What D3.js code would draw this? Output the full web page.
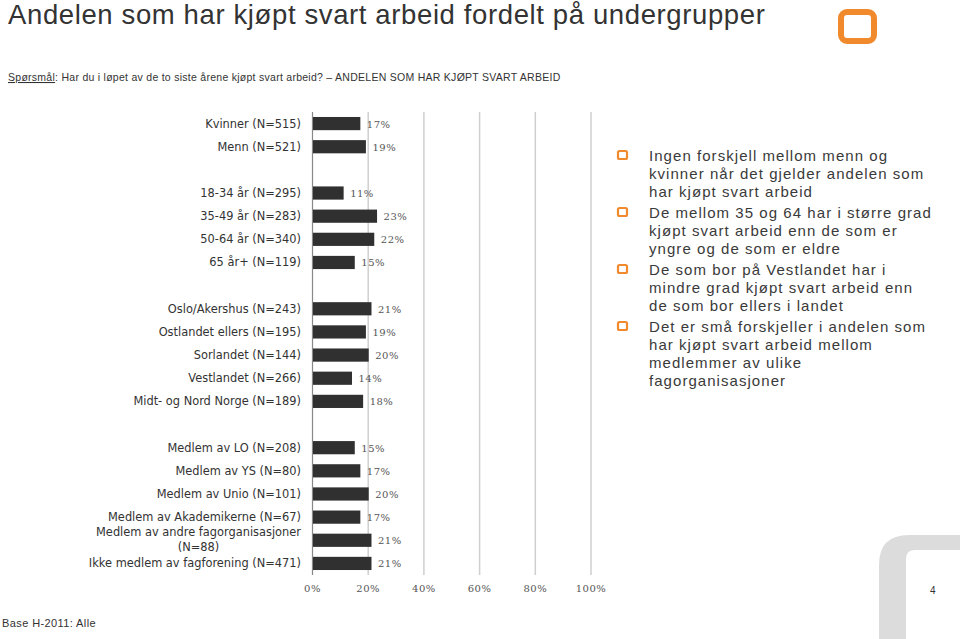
<!DOCTYPE html>
<html>
<head>
<meta charset="utf-8">
<script src="https://cdn.jsdelivr.net/npm/d3@7"></script>
<style>
  html, body { margin: 0; padding: 0; background: #fff; }
  svg { display: block; }
</style>
</head>
<body>
<svg id="chart" width="960" height="639"></svg>
<script>
// ---------- data ----------
const categories = [
  "Kvinner (N=515)", "Menn (N=521)", "",
  "18-34 år (N=295)", "35-49 år (N=283)", "50-64 år (N=340)", "65 år+ (N=119)", "",
  "Oslo/Akershus (N=243)", "Ostlandet ellers (N=195)", "Sorlandet (N=144)", "Vestlandet (N=266)", "Midt- og Nord Norge (N=189)", "",
  "Medlem av LO (N=208)", "Medlem av YS (N=80)", "Medlem av Unio (N=101)", "Medlem av Akademikerne (N=67)",
  "Medlem av andre fagorganisasjoner|(N=88)", "Ikke medlem av fagforening (N=471)"
];
const values = [17, 19, null, 11, 23, 22, 15, null, 21, 19, 20, 14, 18, null, 15, 17, 20, 17, 21, 21];
const tickValues = [0, 20, 40, 60, 80, 100];
const tickLabels = ["0%", "20%", "40%", "60%", "80%", "100%"];
const title = "Andelen som har kjøpt svart arbeid fordelt på undergrupper";
const questionLabel = "Spørsmål";
const questionText = ": Har du i løpet av de to siste årene kjøpt svart arbeid? – ANDELEN SOM HAR KJØPT SVART ARBEID";
const bullets = [
  ["Ingen forskjell mellom menn og", "kvinner når det gjelder andelen som", "har kjøpt svart arbeid"],
  ["De mellom 35 og 64 har i større grad", "kjøpt svart arbeid enn de som er", "yngre og de som er eldre"],
  ["De som bor på Vestlandet har i", "mindre grad kjøpt svart arbeid enn", "de som bor ellers i landet"],
  ["Det er små forskjeller i andelen som", "har kjøpt svart arbeid mellom", "medlemmer av ulike", "fagorganisasjoner"]
];
const baseText = "Base H-2011: Alle";
const pageNumber = "4";

// ---------- drawing ----------
const svg = d3.select("#chart");
const orange = "#F08A2C";

// title
svg.append("text").attr("x", 8).attr("y", 24)
  .attr("font-family", "Liberation Sans, Arial, sans-serif").attr("font-size", 27.5)
  .attr("letter-spacing", 0.62).attr("fill", "#333").text(title);

// logo
svg.append("rect").attr("x", 841).attr("y", 12).attr("width", 33).attr("height", 29)
  .attr("rx", 6).attr("fill", "none").attr("stroke", orange).attr("stroke-width", 6);

// question line
const q = svg.append("text").attr("x", 8).attr("y", 81)
  .attr("font-family", "Liberation Sans, Arial, sans-serif").attr("font-size", 10.5)
  .attr("letter-spacing", 0.27).attr("fill", "#333");
q.append("tspan").attr("text-decoration", "underline").text(questionLabel);
q.append("tspan").text(questionText);

// chart
const x0 = 312.5, x1 = 591;
const x = d3.scaleLinear().domain([0, 100]).range([x0, x1]);
const y = d3.scaleBand().domain(d3.range(categories.length)).range([112, 575]).paddingInner(0.43).paddingOuter(0.215);

const g = svg.append("g");
// gridlines
g.selectAll("line.grid").data(tickValues.filter(d => d > 0)).join("line")
  .attr("x1", d => x(d)).attr("x2", d => x(d)).attr("y1", 112).attr("y2", 575)
  .attr("stroke", "#cfcfcf").attr("stroke-width", 1.5);
g.append("line").attr("x1", x(0)).attr("x2", x(0)).attr("y1", 112).attr("y2", 575)
  .attr("stroke", "#888").attr("stroke-width", 1.2);

const rows = categories.map((c, i) => ({ c, v: values[i], i })).filter(d => d.v != null);
g.selectAll("rect.bar").data(rows).join("rect")
  .attr("x", x(0) + 0.5).attr("y", d => y(d.i))
  .attr("width", d => x(d.v) - x(0)).attr("height", y.bandwidth())
  .attr("fill", "#303030");

// value labels
g.selectAll("text.val").data(rows).join("text")
  .attr("x", d => x(d.v) + 7).attr("y", d => y(d.i) + y.bandwidth() / 2 + 4)
  .attr("font-family", "DejaVu Serif, serif").attr("font-size", 10)
  .attr("letter-spacing", 0.5).attr("fill", "#555").text(d => d.v + "%");

// category labels
const labFont = "DejaVu Sans, Verdana, sans-serif", labSize = 11.4;
rows.forEach(d => {
  const parts = d.c.split("|");
  const cy = y(d.i) + y.bandwidth() / 2;
  if (parts.length === 1) {
    g.append("text").attr("x", 301).attr("y", cy + 4).attr("text-anchor", "end")
      .attr("font-family", labFont).attr("font-size", labSize)
      .attr("fill", "#333").text(parts[0]);
  } else {
    const t1 = g.append("text").attr("x", 301).attr("y", cy - 4).attr("text-anchor", "end")
      .attr("font-family", labFont).attr("font-size", labSize)
      .attr("fill", "#333").text(parts[0]);
    const w = t1.node().getComputedTextLength();
    g.append("text").attr("x", 301 - w / 2).attr("y", cy + 11).attr("text-anchor", "middle")
      .attr("font-family", labFont).attr("font-size", labSize)
      .attr("fill", "#333").text(parts[1]);
  }
});

// axis tick labels
g.selectAll("text.tick").data(tickValues).join("text")
  .attr("x", d => x(d)).attr("y", 592).attr("text-anchor", "middle")
  .attr("font-family", "DejaVu Serif, serif").attr("font-size", 10)
  .attr("letter-spacing", 0.5).attr("fill", "#555").text((d, i) => tickLabels[i]);

// bullets
let by = 161;
bullets.forEach(lines => {
  svg.append("rect").attr("x", 618).attr("y", by - 10).attr("width", 9).attr("height", 8)
    .attr("rx", 1.5).attr("fill", "none").attr("stroke", orange).attr("stroke-width", 2.2);
  lines.forEach((l, j) => {
    svg.append("text").attr("x", 649).attr("y", by + j * 18)
      .attr("font-family", "Liberation Sans, Arial, sans-serif").attr("font-size", 15)
      .attr("letter-spacing", 1.05).attr("fill", "#3a3a3a").text(l);
  });
  by += lines.length * 18 + 3;
});

// grey corner decoration
svg.append("path")
  .attr("d", "M879,639 L879,565 Q879,535 909,535 L960,535 L960,550 L915,550 Q906,550 906,559 L906,639 Z")
  .attr("fill", "#dcdcdc");

svg.append("text").attr("x", 930).attr("y", 594)
  .attr("font-family", "Liberation Sans, Arial, sans-serif").attr("font-size", 10)
  .attr("fill", "#333").text(pageNumber);

svg.append("text").attr("x", 2).attr("y", 627)
  .attr("font-family", "Liberation Sans, Arial, sans-serif").attr("font-size", 11)
  .attr("letter-spacing", 0.4).attr("fill", "#333").text(baseText);
</script>
</body>
</html>
